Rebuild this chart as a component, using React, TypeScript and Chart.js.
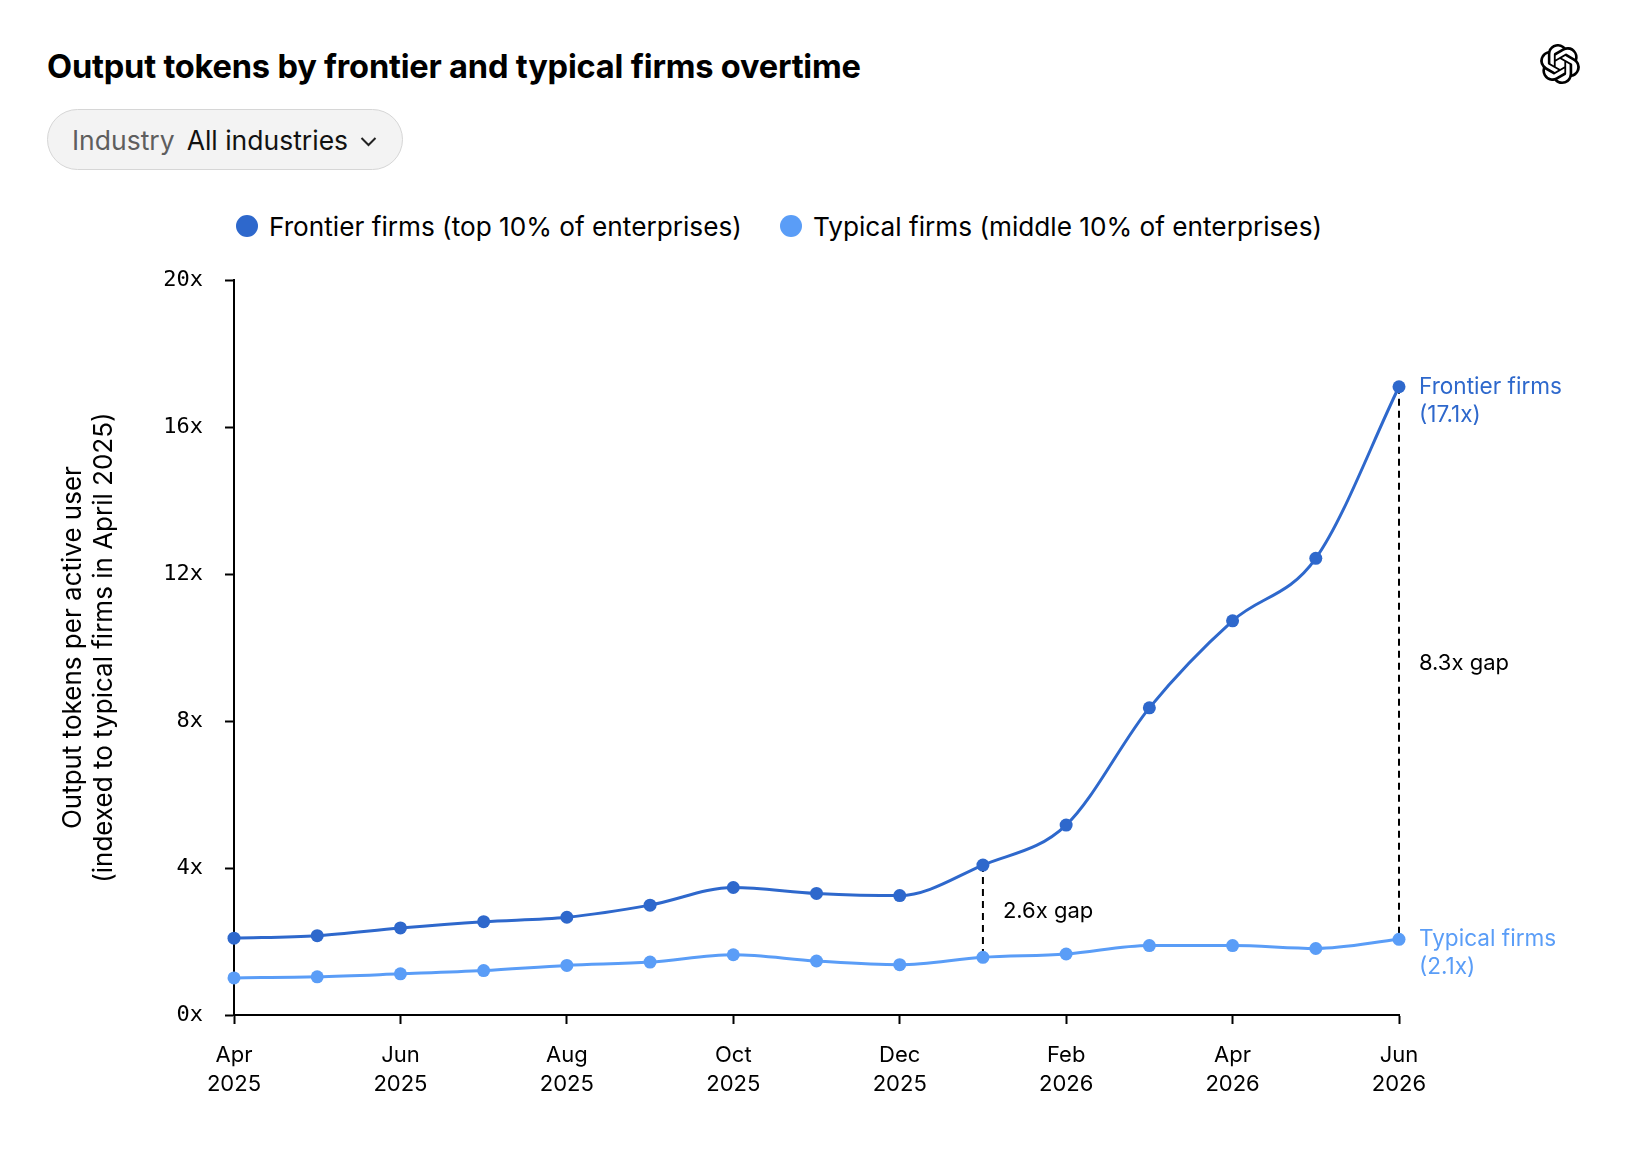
import React, { useEffect, useRef } from "react";
import { Chart, registerables } from "chart.js";

Chart.register(...registerables);

// ---------- data ----------
const months = ["Apr", "May", "Jun", "Jul", "Aug", "Sep", "Oct", "Nov", "Dec", "Jan", "Feb", "Mar", "Apr", "May", "Jun"];
const years = ["2025", "2025", "2025", "2025", "2025", "2025", "2025", "2025", "2025", "2026", "2026", "2026", "2026", "2026", "2026"];
const frontier = [2.09, 2.16, 2.37, 2.54, 2.66, 2.99, 3.47, 3.31, 3.25, 4.08, 5.17, 8.36, 10.73, 12.43, 17.1];
const typical = [1.01, 1.04, 1.12, 1.21, 1.35, 1.44, 1.64, 1.47, 1.37, 1.57, 1.66, 1.89, 1.89, 1.81, 2.06];
const seriesNames = ["Frontier firms (top 10% of enterprises)", "Typical firms (middle 10% of enterprises)"];
const endNames = ["Frontier firms", "Typical firms"];
const gapIndices = [9, 14];
const yMin = 0;
const yMax = 20;
const yStep = 4;
const titleText = "Output tokens by frontier and typical firms overtime";
const yTitle = ["Output tokens per active user", "(indexed to typical firms in April 2025)"];
const filterLabel = "Industry";
const filterValue = "All industries";

const DARK = "#2E68CC";
const LIGHT = "#5A9DF7";
const SANS = "Inter, 'Noto Sans', sans-serif";
const MONO = "'DejaVu Sans Mono', monospace";

const annotate = {
  id: "annotate",
  beforeDatasetsDraw(chart: any) {
    const { ctx, scales } = chart;
    const x = scales.x;
    const y = scales.y;
    ctx.save();
    ctx.strokeStyle = "#000";
    ctx.lineWidth = 2;
    ctx.setLineDash([7, 5]);
    gapIndices.forEach((i) => {
      const px = x.getPixelForValue(i);
      ctx.beginPath();
      ctx.moveTo(px, y.getPixelForValue(frontier[i]));
      ctx.lineTo(px, y.getPixelForValue(typical[i]));
      ctx.stroke();
    });
    ctx.restore();
  },
  afterDatasetsDraw(chart: any) {
    const { ctx, scales } = chart;
    const x = scales.x;
    const y = scales.y;
    ctx.save();
    ctx.font = `22px ${SANS}`;
    ctx.textBaseline = "middle";
    ctx.textAlign = "left";
    ctx.fillStyle = "#000";
    gapIndices.forEach((i) => {
      const px = x.getPixelForValue(i);
      const mid = (y.getPixelForValue(frontier[i]) + y.getPixelForValue(typical[i])) / 2;
      ctx.fillText(`${(frontier[i] / typical[i]).toFixed(1)}x gap`, px + 20, mid);
    });
    ctx.font = `22.6px ${SANS}`;
    const last = frontier.length - 1;
    const lx = x.getPixelForValue(last) + 20;
    [
      { name: endNames[0], v: frontier[last], c: DARK },
      { name: endNames[1], v: typical[last], c: LIGHT },
    ].forEach((d) => {
      const py = y.getPixelForValue(d.v);
      ctx.fillStyle = d.c;
      ctx.fillText(d.name, lx, py);
      ctx.fillText(`(${d.v.toFixed(1)}x)`, lx, py + 28);
    });
    ctx.restore();
  },
};

function ChartCanvas() {
  const ref = useRef<HTMLCanvasElement>(null);
  useEffect(() => {
    if (!ref.current) return;
    const chart = new Chart(ref.current, {
      type: "line",
      data: {
        labels: months.map((m, i) => `${m} ${years[i]}`),
        datasets: [
          {
            label: seriesNames[0],
            data: frontier,
            borderColor: DARK,
            backgroundColor: DARK,
            pointBackgroundColor: DARK,
            pointBorderWidth: 0,
            pointRadius: 6.5,
            borderWidth: 3,
            cubicInterpolationMode: "monotone",
            clip: false,
          },
          {
            label: seriesNames[1],
            data: typical,
            borderColor: LIGHT,
            backgroundColor: LIGHT,
            pointBackgroundColor: LIGHT,
            pointBorderWidth: 0,
            pointRadius: 6.5,
            borderWidth: 3,
            cubicInterpolationMode: "monotone",
            clip: false,
          },
        ],
      },
      options: {
        responsive: false,
        animation: false,
        events: [],
        layout: { padding: { top: 0, right: 231, bottom: 0, left: 0 } },
        plugins: {
          legend: { display: false },
          tooltip: { enabled: false },
        },
        scales: {
          x: {
            type: "category",
            offset: false,
            afterFit(scale: any) {
              scale.height = 100;
            },
            border: { display: true, color: "#000", width: 2 },
            grid: {
              display: true,
              drawOnChartArea: false,
              drawTicks: true,
              tickLength: 9,
              tickWidth: 2,
              tickColor: (c: any) => (c.index % 2 === 0 ? "#000" : "rgba(0,0,0,0)"),
            },
            ticks: {
              autoSkip: false,
              maxRotation: 0,
              minRotation: 0,
              padding: 17.5,
              color: "#000",
              font: { family: SANS, size: 22, lineHeight: 1.3 },
              callback: (_v: any, i: number) => (i % 2 === 0 ? [months[i], years[i]] : ""),
            },
          },
          y: {
            min: yMin,
            max: yMax,
            afterFit(scale: any) {
              scale.width = 234;
            },
            border: { display: true, color: "#000", width: 2 },
            grid: {
              display: true,
              drawOnChartArea: false,
              drawTicks: true,
              tickLength: 9,
              tickWidth: 2,
              tickColor: "#000",
            },
            ticks: {
              stepSize: yStep,
              padding: 22,
              color: "#000",
              font: { family: MONO, size: 22 },
              callback: (v: any) => `${v}x`,
            },
            title: {
              display: true,
              text: yTitle,
              color: "#000",
              font: { family: SANS, size: 26, lineHeight: 1.2 },
              padding: { top: 57.4, bottom: 0 },
            },
          },
        },
      },
      plugins: [annotate],
    } as any);
    return () => chart.destroy();
  }, []);
  return <canvas ref={ref} width={1630} height={870} style={{ width: 1630, height: 870, display: "block" }} />;
}

const logoPath =
  "M22.2819 9.8211a5.9847 5.9847 0 0 0-.5157-4.9108 6.0462 6.0462 0 0 0-6.5098-2.9A6.0651 6.0651 0 0 0 4.9807 4.1818a5.9847 5.9847 0 0 0-3.9977 2.9 6.0462 6.0462 0 0 0 .7427 7.0966 5.98 5.98 0 0 0 .511 4.9107 6.051 6.051 0 0 0 6.5146 2.9001A5.9847 5.9847 0 0 0 13.2599 24a6.0557 6.0557 0 0 0 5.7718-4.2058 5.9894 5.9894 0 0 0 3.9977-2.9001 6.0557 6.0557 0 0 0-.7475-7.0729zm-9.022 12.6081a4.4755 4.4755 0 0 1-2.8764-1.0408l.1419-.0804 4.7783-2.7582a.7948.7948 0 0 0 .3927-.6813v-6.7369l2.02 1.1686a.071.071 0 0 1 .038.052v5.5826a4.504 4.504 0 0 1-4.4945 4.4944zm-9.6607-4.1254a4.4708 4.4708 0 0 1-.5346-3.0137l.142.0852 4.783 2.7582a.7712.7712 0 0 0 .7806 0l5.8428-3.3685v2.3324a.0804.0804 0 0 1-.0332.0615L9.74 19.9502a4.4992 4.4992 0 0 1-6.1408-1.6464zM2.3408 7.8956a4.485 4.485 0 0 1 2.3655-1.9728V11.6a.7664.7664 0 0 0 .3879.6765l5.8144 3.3543-2.0201 1.1685a.0757.0757 0 0 1-.071 0l-4.8303-2.7865A4.504 4.504 0 0 1 2.3408 7.872zm16.5963 3.8558L13.1038 8.364 15.1192 7.2a.0757.0757 0 0 1 .071 0l4.8303 2.7913a4.4944 4.4944 0 0 1-.6765 8.1042v-5.6772a.79.79 0 0 0-.407-.667zm2.0107-3.0231l-.142-.0852-4.7735-2.7818a.7759.7759 0 0 0-.7854 0L9.409 9.2297V6.8974a.0662.0662 0 0 1 .0284-.0615l4.8303-2.7866a4.4992 4.4992 0 0 1 6.6802 4.66zM8.3065 12.863l-2.02-1.1638a.0804.0804 0 0 1-.038-.0567V6.0742a4.4992 4.4992 0 0 1 7.3757-3.4537l-.142.0805L8.704 5.459a.7948.7948 0 0 0-.3927.6813zm1.0976-2.3654l2.602-1.4998 2.6069 1.4998v2.9994l-2.5974 1.4997-2.6067-1.4997Z";

export default function App() {
  const abs = (l: number, t: number): React.CSSProperties => ({ position: "absolute", left: l, top: t });
  return (
    <div style={{ position: "absolute", left: 0, top: 0, width: 1630, height: 1168, background: "#fff", fontFamily: SANS, color: "#000", overflow: "hidden" }}>
      <div style={{ ...abs(47, 46), fontSize: 32.6, fontWeight: 700, lineHeight: "40px", whiteSpace: "nowrap", letterSpacing: -0.2 }}>{titleText}</div>
      <svg style={abs(1540, 44)} width={40} height={40} viewBox="0 0 24 24">
        <path d={logoPath} fill="#000" />
      </svg>
      <div
        style={{
          ...abs(47, 109),
          width: 356,
          height: 61,
          boxSizing: "border-box",
          borderRadius: 31,
          border: "1.5px solid #d6d6d6",
          background: "#f3f3f3",
          display: "flex",
          alignItems: "center",
          paddingLeft: 24,
          fontSize: 26.5,
          whiteSpace: "nowrap",
        }}
      >
        <span style={{ color: "#5e5e5e" }}>{filterLabel}</span>
        <span style={{ color: "#111", marginLeft: 12 }}>{filterValue}</span>
        <svg width={17} height={11} viewBox="0 0 17 11" style={{ marginLeft: 12, marginTop: 3 }}>
          <polyline points="1.5,2 8.5,9 15.5,2" fill="none" stroke="#222" strokeWidth={2} />
        </svg>
      </div>
      {[
        { name: seriesNames[0], c: DARK, left: 236 },
        { name: seriesNames[1], c: LIGHT, left: 780 },
      ].map((d) => (
        <div key={d.name} style={{ ...abs(d.left, 210), display: "flex", alignItems: "center", height: 32, whiteSpace: "nowrap" }}>
          <span style={{ width: 22, height: 22, borderRadius: 11, background: d.c, display: "inline-block" }} />
          <span style={{ marginLeft: 11, fontSize: 26.2 }}>{d.name}</span>
        </div>
      ))}
      <div style={abs(0, 245)}>
        <ChartCanvas />
      </div>
    </div>
  );
}
